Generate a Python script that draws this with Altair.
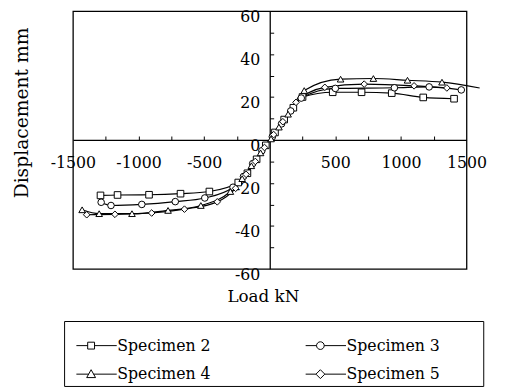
import altair as alt
import pandas as pd

specimens = ["Specimen 2", "Specimen 3", "Specimen 4", "Specimen 5"]
legend_order = ["Specimen 2", "Specimen 4", "Specimen 3", "Specimen 5"]

s2_load = [-1290, -1160, -920, -680, -460, -240, -170, -100, -30, 40, 110, 180, 250, 480, 700, 930, 1170, 1405]
s2_disp = [-25.8, -25.6, -25.5, -25.0, -24.0, -19.8, -15.5, -9.0, -2.5, 3.5, 9.5, 15.0, 20.0, 22.2, 22.2, 21.8, 19.8, 19.2]

s3_load = [-1285, -1210, -975, -720, -495, -280, -200, -130, -60, 20, 90, 160, 240, 500, 950, 1215, 1460]
s3_disp = [-29.0, -30.5, -30.0, -28.7, -27.0, -22.0, -17.0, -11.0, -5.0, 1.5, 7.5, 13.5, 19.5, 24.0, 24.3, 24.7, 23.3]

s4_load = [-1430, -1300, -1050, -775, -525, -300, -210, -140, -70, 10, 70, 140, 263, 540, 790, 1050, 1313]
s4_disp = [-32.5, -34.3, -34.3, -32.8, -30.5, -24.0, -18.0, -12.0, -6.0, 0.5, 6.0, 12.0, 23.0, 28.3, 28.6, 27.8, 26.9]

s5_load = [-1395, -1180, -900, -650, -400, -260, -180, -110, -40, 30, 100, 200, 420, 720, 1100, 1350]
s5_disp = [-34.8, -34.6, -34.0, -32.2, -28.8, -22.5, -16.0, -10.0, -3.5, 2.5, 8.5, 17.5, 24.5, 26.0, 25.2, 24.2]

# line continues past the last marker
tail_specimen = ["Specimen 4"]
tail_load = [1600]
tail_disp = [24.2]

x_label_values = [-1500, -1000, -500, 500, 1000, 1500]
x_tick_values = [-1250, -1000, -750, -500, -250, 250, 500, 750, 1000, 1250]
y_label_values = [-60, -40, -20, 0, 20, 40, 60]
y_tick_values = [-50, -40, -30, -20, -10, 10, 20, 30, 40, 50]

path_square = "M-1,0H-0.44M-0.1,0H1M-0.44,-0.17H-0.1V0.17H-0.44Z"
path_circle = "M-1,0H-0.46M-0.08,0H1M-0.46,0A0.19,0.19 0 1,0 -0.08,0A0.19,0.19 0 1,0 -0.46,0Z"
path_triangle = "M-1,0H-0.39M-0.15,0H1M-0.27,-0.22L-0.05,0.17L-0.49,0.17Z"
path_diamond = "M-1,0H-0.49M-0.05,0H1M-0.27,-0.22L-0.05,0L-0.27,0.22L-0.49,0Z"
legend_paths = [path_square, path_triangle, path_circle, path_diamond]
plot_shapes = ["square", "circle", "triangle-up", "diamond"]

rows = []
for name, loads, disps in zip(specimens, [s2_load, s3_load, s4_load, s5_load],
                              [s2_disp, s3_disp, s4_disp, s5_disp]):
    for l, d in zip(loads, disps):
        rows.append({"Specimen": name, "Legend": name, "Load": l, "Disp": d})
points = pd.DataFrame(rows)
tail = pd.DataFrame({"Specimen": tail_specimen, "Legend": tail_specimen,
                     "Load": tail_load, "Disp": tail_disp})
lines_df = pd.concat([points, tail], ignore_index=True)

W, H = 400, 262
FONT = "DejaVu Serif"

xscale = alt.Scale(domain=[-1500, 1500], nice=False, zero=False)
yscale = alt.Scale(domain=[-60, 60], nice=False, zero=False)

x_main = alt.Axis(orient="bottom", offset=-H / 2, values=x_label_values, ticks=False,
                  grid=False, domain=True, domainColor="black", domainWidth=1.3,
                  labelFont=FONT, labelFontSize=16, labelColor="black", labelPadding=15,
                  labelFlush=False, labelOverlap=False, labelBound=False,
                  labelExpr="'' + datum.value",
                  titleFont=FONT, titleFontSize=17, titleFontWeight="normal",
                  titleColor="black", titleX=193, titleY=159, titleAlign="center",
                  titleBaseline="middle")
y_main = alt.Axis(orient="left", offset=-W / 2, values=y_label_values, ticks=False,
                  grid=False, domain=True, domainColor="black", domainWidth=1.3,
                  labelFont=FONT, labelFontSize=16, labelColor="black", labelPadding=10,
                  labelOffset=6, labelFlush=False, labelOverlap=False, labelBound=False,
                  labelExpr="'' + datum.value",
                  titleFont=FONT, titleFontSize=19, titleFontWeight="normal",
                  titleColor="black", titleX=-252, titleY=103, titleAlign="center",
                  titleBaseline="middle")
x_ticks = alt.Axis(orient="top", offset=-H / 2, values=x_tick_values, labels=False,
                   domain=False, ticks=True, tickSize=4, tickColor="black", tickWidth=1,
                   grid=False)
y_ticks = alt.Axis(orient="right", offset=-W / 2, values=y_tick_values, labels=False,
                   domain=False, ticks=True, tickSize=4, tickColor="black", tickWidth=1,
                   grid=False)

lines = alt.Chart(lines_df).mark_line(color="black", strokeWidth=1.2, interpolate="monotone").encode(
    x=alt.X("Load:Q", scale=xscale, axis=x_main, title="Load kN"),
    y=alt.Y("Disp:Q", scale=yscale, axis=y_main, title="Displacement mm"),
    detail="Specimen:N",
)

marks = alt.Chart(points).mark_point(filled=True, fill="white", stroke="black",
                                     strokeWidth=1, size=45, opacity=1).encode(
    x=alt.X("Load:Q", scale=xscale, axis=x_ticks, title=None),
    y=alt.Y("Disp:Q", scale=yscale, axis=y_ticks, title=None),
    shape=alt.Shape("Specimen:N", scale=alt.Scale(domain=specimens, range=plot_shapes), legend=None),
)

legend_layer = alt.Chart(points).mark_point(opacity=0).encode(
    x=alt.X("Load:Q", scale=xscale, axis=None),
    y=alt.Y("Disp:Q", scale=yscale, axis=None),
    shape=alt.Shape(
        "Legend:N",
        scale=alt.Scale(domain=legend_order, range=legend_paths),
        legend=alt.Legend(
            orient="none", legendX=-9, legendY=315, columns=2, columnPadding=88,
            rowPadding=-4, padding=4, strokeColor="black",
            title="\u00a0", titleOrient="right", titlePadding=40,
            titleFont=FONT, titleFontSize=16,
            symbolSize=1681, symbolStrokeWidth=1, symbolStrokeColor="black",
            symbolFillColor="white", symbolOpacity=1, symbolOffset=8,
            labelFont=FONT, labelFontSize=16, labelColor="black", labelOffset=0,
        ),
    ),
)

chart = alt.layer(lines, marks, legend_layer).resolve_scale(
    shape="independent"
).resolve_axis(
    x="independent", y="independent"
).resolve_legend(
    shape="independent"
).properties(
    width=W, height=H,
    autosize=alt.AutoSizeParams(type="none"),
    padding={"left": 66, "top": 0, "right": 33, "bottom": 121},
    background="white",
).configure_view(stroke="black", strokeWidth=1.3)

chart.save("out.html", embed_options={"renderer": "svg", "actions": False})
